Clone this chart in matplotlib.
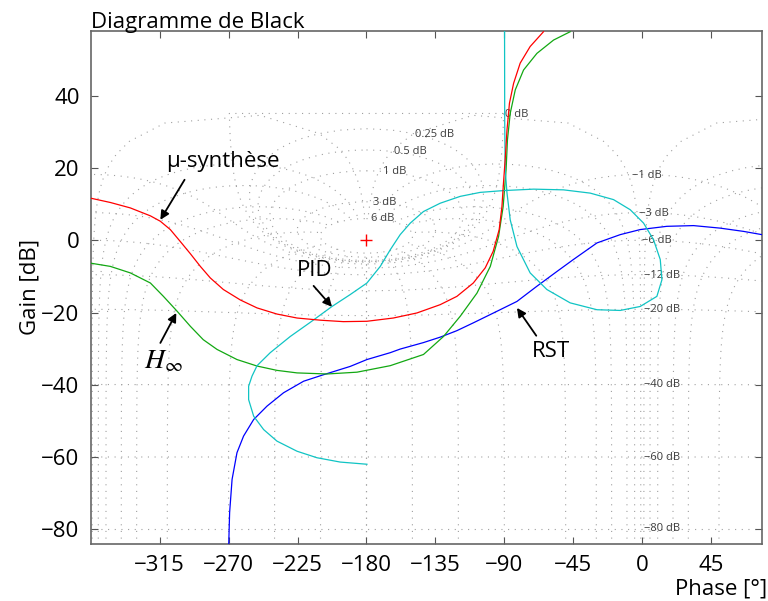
import numpy as np
import matplotlib.pyplot as plt

plt.rcParams['font.family'] = ['Open Sans', 'DejaVu Sans']

# limites et graduations
phase_lim = [-360, 78]
gain_lim = [-84, 58]
phase_ticks = [-315, -270, -225, -180, -135, -90, -45, 0, 45]
gain_ticks = [-80, -60, -40, -20, 0, 20, 40]

# mu-synthese (rouge)
mu_phase = [-360, -347.1, -334.1, -321.0, -314.5, -308.0, -301.5, -294.9, -288.4, -281.9,
            -273.4, -262.3, -251.4, -238.4, -225.3, -210.1, -195.1, -179.7, -162.5, -147.1,
            -131.9, -121.0, -110.3, -102.5, -97.3, -93.4, -91.6, -90.6, -89.5, -88.3,
            -86.7, -84.0, -79.7, -73.2, -64.5]
mu_gain = [11.7, 10.5, 9.0, 6.8, 5.3, 3.0, -0.3, -3.7, -7.2, -10.4,
           -13.6, -16.5, -18.7, -20.4, -21.5, -22.1, -22.5, -22.4, -21.5, -20.1,
           -17.8, -15.5, -11.8, -7.6, -3.0, 3.0, 9.4, 15.9, 22.3, 30.6,
           38.0, 43.5, 49.1, 53.7, 57.8]

# H infini (vert)
hinf_phase = [-360, -347.1, -334.1, -321.0, -312.5, -303.6, -294.9, -286.5, -277.5, -264.5,
              -251.4, -238.4, -225.3, -205.8, -186.2, -164.5, -142.8, -129.7, -118.8, -107.9,
              -99.2, -93.8, -90.8, -88.9, -88.0, -86.2, -82.9, -77.5, -68.8, -57.9, -47.1]
hinf_gain = [-6.3, -7.2, -9.0, -11.8, -15.5, -19.6, -23.8, -27.5, -30.2, -33.0,
             -34.8, -36.0, -36.7, -37.0, -36.5, -34.7, -31.6, -26.6, -21.0, -14.6,
             -7.2, 1.1, 9.4, 19.6, 27.9, 35.2, 41.7, 47.2, 51.8, 55.5, 57.8]

# PID (cyan)
pid_phase = [-179.7, -197.1, -212.3, -225.3, -238.4, -247.1, -253.6, -256.9, -256.9, -254.7,
             -251.4, -242.8, -229.7, -216.7, -202.5, -190.6, -179.7, -171.0, -164.5, -158.0,
             -151.4, -142.8, -131.9, -118.8, -105.8, -90.6, -71.0, -51.4, -34.0, -18.8,
             -7.9, 0.8, 7.3, 11.7, 12.8, 9.5, -1.4, -14.4, -29.6, -47.1,
             -62.3, -73.2, -81.8, -86.2, -88.3, -89.5, -89.8, -89.9]
pid_gain = [-62.0, -61.4, -60.2, -58.4, -55.6, -52.4, -48.7, -44.1, -40.4, -37.6,
            -34.7, -31.1, -26.6, -22.7, -18.3, -15.0, -11.8, -7.2, -2.6, 1.6,
            4.8, 8.0, 10.3, 12.2, 13.3, 13.8, 14.2, 14.0, 13.1, 11.3,
            8.5, 4.8, 0.2, -5.3, -10.9, -15.5, -18.3, -19.4, -19.2, -17.3,
            -13.6, -9.0, -1.7, 5.7, 13.1, 19.6, 33.4, 59.0]

# RST (bleu)
rst_phase = [-270.0, -269.3, -267.7, -264.5, -260.2, -253.6, -244.9, -234.1, -221.0, -208.0,
             -190.6, -179.7, -164.5, -158.0, -142.8, -131.9, -121.0, -110.1, -97.1, -81.8,
             -68.8, -55.7, -45.0, -29.6, -14.4, -1.4, 16.0, 33.4, 50.8, 66.0, 78.0]
rst_gain = [-86.0, -75.4, -66.2, -58.8, -54.2, -49.6, -45.9, -42.2, -39.0, -37.2,
            -34.9, -33.0, -31.1, -30.1, -28.3, -26.8, -25.0, -22.8, -20.1, -16.9,
            -12.7, -8.6, -5.3, -0.7, 1.6, 3.0, 3.9, 4.1, 3.4, 2.5, 1.6]

# abaque de Black : gains et phases en boucle fermee
iso_gains = [6, 3, 1, 0.5, 0.25, 0, -1, -3, -6, -12, -20, -40, -60, -80]
iso_phases = [1, 5, 10, 20, 30, 50, 90, 120, 150, 180]
grid_labels = ['0.25 dB', '0.5 dB', '1 dB', '3 dB', '6 dB', '0 dB',
               '\u22121 dB', '\u22123 dB', '\u22126 dB', '\u221212 dB', '\u221220 dB',
               '\u221240 dB', '\u221260 dB', '\u221280 dB']
label_phase = [-148.2, -162.3, -169.2, -175.8, -177.1, -89.5,
               -6.8, -1.9, -0.3, 0.8, 0.8, 0.8, 0.8, 0.8]
label_gain = [29.2, 24.5, 19.0, 10.4, 6.0, 35.0,
              17.9, 7.4, -0.1, -9.8, -19.2, -39.9, -60.0, -79.9]


def boucle_ouverte(T):
    L = T / (1 - T)
    ph = np.degrees(np.unwrap(np.angle(L)))
    ph = ph - 360 * np.round((ph.mean() + 180) / 360)
    return ph, 20 * np.log10(np.abs(L))


def abaque(ax):
    style = dict(color='#a0a0a0', lw=0.8, linestyle=(0, (1, 5)), zorder=1)
    courbes = []
    for g in iso_gains:
        m = 10 ** (g / 20)
        if g == 0:
            th = np.radians(np.linspace(1, 359, 600))
        else:
            th = np.radians(np.linspace(0, 360, 721))
        ph, gd = boucle_ouverte(m * np.exp(-1j * th))
        if g == 0:
            ph = np.append(ph, ph[0])
            gd = np.append(gd, gd[0])
        courbes.append((ph, gd))
    r = np.logspace(-4.5, np.log10(2), 500)
    for p in iso_phases:
        for pp in (p, 360 - p):
            ph, gd = boucle_ouverte(r * np.exp(-1j * np.radians(pp)))
            courbes.append((ph, gd))
    for ph, gd in courbes:
        for k in (-360, 0, 360):
            ax.plot(ph + k, gd, **style)
    for txt, x, y in zip(grid_labels, label_phase, label_gain):
        ax.text(x, y, txt, fontsize=8, color='#3c3c3c', ha='left', va='center', zorder=2)


fig = plt.figure(figsize=(7.68, 6.01), dpi=100)
ax = fig.add_axes([0.118, 0.0954, 0.874, 0.853])

abaque(ax)

ax.plot(rst_phase, rst_gain, color='#0000ff', lw=0.9, zorder=3)
ax.plot(hinf_phase, hinf_gain, color='#12a812', lw=0.9, zorder=3)
ax.plot(pid_phase, pid_gain, color='#10c4c4', lw=0.9, zorder=3)
ax.plot(mu_phase, mu_gain, color='#ff0000', lw=0.9, zorder=3)
ax.plot([-180], [0], marker='+', color='#ff0000', ms=9, mew=1, zorder=4)

# fleches et etiquettes des correcteurs
arrow = dict(arrowstyle='-|>', color='k', lw=1.3, mutation_scale=13, shrinkA=0, shrinkB=0)
ax.annotate('', xy=(-314.5, 5.7), xytext=(-298.7, 16.8), arrowprops=arrow, zorder=5)
ax.annotate('', xy=(-202.5, -18.4), xytext=(-214.5, -12.6), arrowprops=arrow, zorder=5)
ax.annotate('', xy=(-81.8, -18.7), xytext=(-69.2, -26.4), arrowprops=arrow, zorder=5)
ax.annotate('', xy=(-304.1, -20.1), xytext=(-314.5, -28.4), arrowprops=arrow, zorder=5)
ax.text(-273.7, 21.8, '\u03bc-synth\u00e8se', fontsize=16, ha='center', va='center', zorder=5)
ax.text(-213.7, -8.4, 'PID', fontsize=16, ha='center', va='center', zorder=5)
ax.text(-59.5, -30.8, 'RST', fontsize=16, ha='center', va='center', zorder=5)
ax.text(-312.5, -33.5, r'$H_\infty$', fontsize=20, ha='center', va='center', zorder=5,
        math_fontfamily='stix')

ax.set_xlim(phase_lim)
ax.set_ylim(gain_lim)
ax.set_xticks(phase_ticks)
ax.set_yticks(gain_ticks)
ax.set_xticklabels([f'{t}'.replace('-', '\u2212') for t in phase_ticks])
ax.set_yticklabels([f'{t}'.replace('-', '\u2212') for t in gain_ticks])
ax.tick_params(direction='in', top=True, right=True, length=5, width=0.8,
               labelsize=16, color='#555555', pad=8)
for s in ax.spines.values():
    s.set_color('#666666')
    s.set_linewidth(1.2)

ax.set_title('Diagramme de Black', loc='left', fontsize=16, pad=2)
ax.set_ylabel('Gain [dB]', fontsize=16, labelpad=0.5)
fig.text(0.999, 0.002, 'Phase [\u00b0]', fontsize=16, ha='right', va='bottom')

fig.savefig('out.png', dpi=100)
